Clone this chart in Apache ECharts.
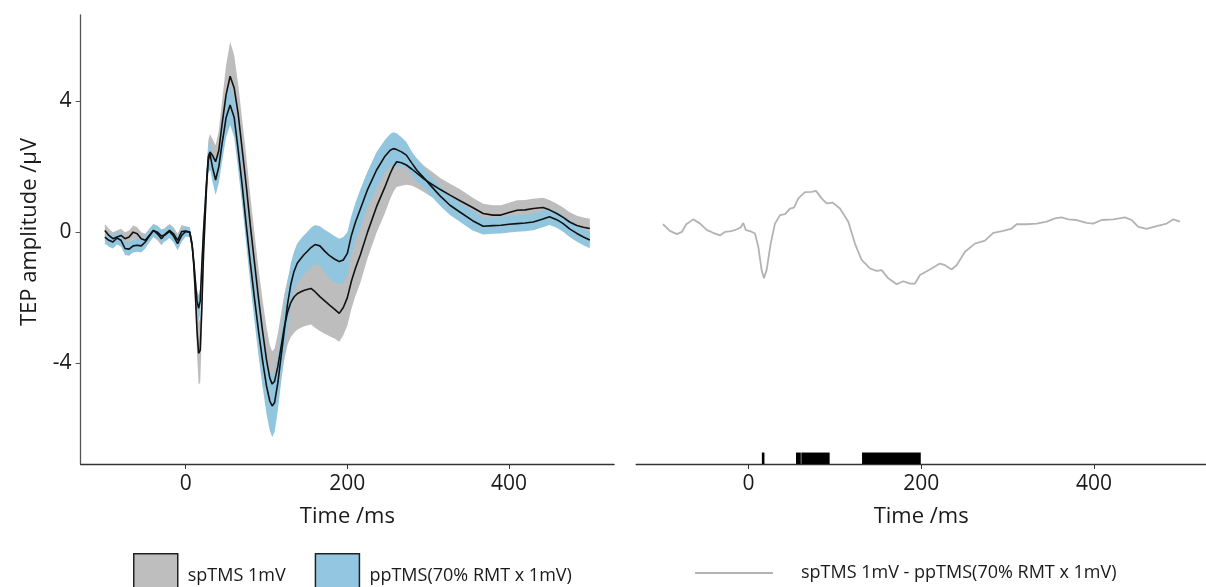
<!DOCTYPE html>
<html>
<head>
<meta charset="utf-8">
<script src="https://cdn.jsdelivr.net/npm/echarts@6/dist/echarts.min.js"></script>
<style>
html,body{margin:0;padding:0;background:#fff;}
#chart{width:1206px;height:587px;}
</style>
</head>
<body>
<div id="chart"></div>
<script>
// ---- data ----
const time = [-100,-95,-90,-85,-80,-75,-70,-65,-60,-55,-50,-45,-40,-35,-30,-25,-20,-15,-10,-5,0,
  5,8,10,12,14,16,18,20,22,24,26,28,30,33,37,41,45,50,55,60,65,70,75,80,85,90,95,100,104,107,110,
  114,118,122,126,130,134,138,142,146,150,155,160,166,172,178,184,190,195,200,205,210,216,225,236,
  246,253,257,261,267,273,280,286,295,302,315,327,340,355,368,380,390,400,410,420,430,442,450,459,
  467,475,484,492,500];
const spMean = [0.05,-0.1,-0.2,-0.15,-0.1,-0.2,-0.15,0.0,-0.05,-0.2,-0.25,-0.1,0.05,-0.05,-0.2,-0.05,0.05,-0.05,-0.25,0.02,0.03,
  0.0,-0.4,-1.0,-1.9,-3.0,-3.7,-3.6,-2.3,-0.7,0.4,1.5,2.3,2.45,2.35,2.15,2.5,3.3,4.2,4.76,4.4,3.6,2.5,1.4,0.2,-0.9,-2.0,-3.0,-3.9,-4.45,-4.64,-4.55,
  -4.1,-3.5,-2.9,-2.45,-2.15,-1.98,-1.88,-1.83,-1.78,-1.75,-1.72,-1.82,-1.97,-2.1,-2.23,-2.35,-2.48,-2.3,-2.0,-1.5,-1.1,-0.7,0.0,0.77,
  1.35,1.79,2.0,2.15,2.12,2.05,1.92,1.8,1.62,1.5,1.3,1.13,0.95,0.75,0.57,0.52,0.52,0.6,0.67,0.68,0.72,0.75,0.68,0.57,
  0.45,0.31,0.2,0.15,0.11];
const spHalf = [0.2,0.2,0.2,0.2,0.2,0.2,0.2,0.2,0.2,0.2,0.2,0.2,0.2,0.2,0.2,0.2,0.2,0.2,0.2,0.2,0.15,
  0.15,0.2,0.3,0.5,0.7,0.95,1.0,0.8,0.6,0.5,0.5,0.5,0.55,0.5,0.5,0.6,0.7,0.9,1.05,1.0,0.9,0.9,0.9,0.9,0.9,0.9,0.95,1.0,1.0,1.0,1.0,
  1.0,1.0,1.0,1.0,1.05,1.1,1.1,1.1,1.1,1.1,1.1,1.1,1.05,1.0,0.95,0.9,0.87,0.85,0.85,0.85,0.85,0.85,0.8,0.8,
  0.8,0.78,0.77,0.77,0.7,0.6,0.5,0.45,0.4,0.4,0.35,0.35,0.35,0.3,0.3,0.3,0.3,0.3,0.3,0.3,0.3,0.3,0.3,0.3,
  0.3,0.3,0.3,0.3,0.3];
const ppMean = [-0.15,-0.25,-0.3,-0.18,-0.25,-0.5,-0.52,-0.42,-0.4,-0.42,-0.3,-0.12,0.05,0.0,-0.12,-0.08,0.02,-0.12,-0.35,-0.1,0.02,
  0.0,-0.4,-0.9,-1.5,-2.1,-2.33,-2.1,-1.0,0.0,0.8,1.6,2.2,2.4,2.0,1.59,2.0,2.7,3.5,3.88,3.5,2.5,1.4,0.2,-0.95,-2.0,-3.0,-3.9,-4.7,-5.15,-5.31,-5.2,
  -4.6,-3.8,-3.0,-2.2,-1.6,-1.2,-0.95,-0.82,-0.7,-0.6,-0.47,-0.38,-0.42,-0.58,-0.72,-0.82,-0.9,-0.85,-0.65,-0.1,0.3,0.7,1.3,1.89,
  2.3,2.5,2.55,2.52,2.45,2.35,2.1,1.89,1.65,1.45,1.1,0.82,0.6,0.35,0.18,0.2,0.21,0.24,0.26,0.28,0.31,0.4,0.47,0.38,
  0.26,0.1,-0.04,-0.15,-0.24];
const ppHalf = [0.2,0.2,0.2,0.2,0.2,0.2,0.2,0.2,0.2,0.2,0.2,0.2,0.2,0.2,0.2,0.2,0.2,0.2,0.2,0.2,0.15,
  0.15,0.15,0.2,0.3,0.35,0.4,0.4,0.4,0.4,0.4,0.4,0.4,0.45,0.45,0.46,0.5,0.55,0.6,0.6,0.6,0.6,0.6,0.6,0.65,0.7,0.75,0.8,0.85,0.9,0.95,0.9,
  0.85,0.8,0.75,0.7,0.65,0.6,0.6,0.6,0.6,0.6,0.6,0.6,0.6,0.65,0.7,0.7,0.7,0.7,0.65,0.6,0.6,0.6,0.55,0.55,
  0.5,0.5,0.5,0.5,0.45,0.4,0.35,0.35,0.3,0.3,0.3,0.3,0.3,0.3,0.25,0.25,0.25,0.25,0.25,0.25,0.25,0.25,0.25,0.25,
  0.25,0.25,0.25,0.25,0.25];

const diffTime = [-99,-91,-83,-77,-72,-64,-56,-48,-41,-33,-27,-20,-14,-9,-6,-3,2,7.5,11.4,15.2,17.9,21,25.7,30.7,36.5,42.3,48,52.7,57.7,
  65.4,73.2,78.2,84.7,90.5,97.5,105.9,115.6,123.3,131,140.7,148.4,154.2,161.9,171.6,179.3,187,192.8,198.6,210.1,221.7,227.5,235.2,241,
  250.7,262.2,273.8,283.5,295,304.7,310.5,322.1,333.7,345.3,354.9,362.6,370.3,380,391.6,399.2,408.9,422.4,435.9,443.7,451.4,461,472.6,
  484.2,491.9,499.6];
const diffVal = [0.24,0.04,-0.06,0.01,0.24,0.39,0.26,0.06,-0.02,-0.1,0.01,0.03,0.08,0.14,0.28,0.06,0.03,-0.04,-0.45,-1.16,-1.41,-1.16,-0.35,0.26,0.52,0.55,0.72,0.75,1.03,
  1.22,1.23,1.26,1.03,0.88,0.9,0.72,0.32,-0.35,-0.85,-1.11,-1.18,-1.16,-1.41,-1.59,-1.5,-1.57,-1.57,-1.31,-1.14,-0.96,-1.01,-1.14,-1.01,
  -0.6,-0.35,-0.26,-0.02,0.04,0.11,0.24,0.24,0.26,0.32,0.42,0.45,0.39,0.37,0.28,0.26,0.37,0.39,0.45,0.37,0.16,0.1,0.18,
  0.26,0.39,0.32];

const sigStart = [15.5, 55, 61.2, 131.5];
const sigEnd   = [18.5, 60.6, 94, 199.5];

const xTicks = [0, 200, 400];
const yTicks = [-4, 0, 4];
const xMin = -130, xMax = 530;
const yMin = -7.08, yMax = 6.63;

const spName = 'spTMS 1mV';
const ppName = 'ppTMS(70% RMT x 1mV)';
const diffName = 'spTMS 1mV - ppTMS(70% RMT x 1mV)';

// ---- chart ----
const FONT = 'Open Sans';
const GREY = '#bdbdbd', BLUE = '#92c5de', TXT = '#1a1a1a', AX = '#333';

function xAxisCfg(gi) {
  return {
    gridIndex: gi, type: 'value', min: xMin, max: xMax,
    splitLine: {show: false},
    axisLine: {onZero: false, lineStyle: {color: AX, width: 1.3}},
    axisTick: {customValues: xTicks, length: 5, lineStyle: {color: AX}},
    axisLabel: {customValues: xTicks, fontSize: 21, color: TXT, margin: 10, fontFamily: FONT},
    name: 'Time /ms', nameLocation: 'middle', nameGap: 42,
    nameTextStyle: {fontSize: 22, color: TXT, fontFamily: FONT}
  };
}

// band polygon drawn through the axis scale (api.coord)
function bandSeries(name, mean, half, color) {
  return {
    name: name, type: 'custom', xAxisIndex: 0, yAxisIndex: 0, silent: true,
    data: time.map((t, i) => [t, mean[i] - half[i], mean[i] + half[i]]),
    encode: {x: 0, y: [1, 2]},
    itemStyle: {color: color},
    renderItem: function (params, api) {
      if (params.dataIndex !== 0) return null;
      const pts = [];
      for (let i = 0; i < time.length; i++) pts.push(api.coord([time[i], mean[i] + half[i]]));
      for (let i = time.length - 1; i >= 0; i--) pts.push(api.coord([time[i], mean[i] - half[i]]));
      return {type: 'polygon', shape: {points: pts}, style: {fill: color}};
    },
    z: 2
  };
}

const option = {
  animation: false,
  textStyle: {fontFamily: FONT},
  grid: [
    {left: 80.6, top: 15, width: 533.5, height: 449, outerBoundsMode: 'none'},
    {left: 636.2, top: 15, width: 570, height: 449, outerBoundsMode: 'none'}
  ],
  xAxis: [xAxisCfg(0), xAxisCfg(1)],
  yAxis: [
    {
      gridIndex: 0, type: 'value', min: yMin, max: yMax,
      splitLine: {show: false},
      axisLine: {show: true, onZero: false, lineStyle: {color: '#555', width: 1.3}},
      axisTick: {show: true, customValues: yTicks, length: 5, lineStyle: {color: '#555'}},
      axisLabel: {customValues: yTicks, fontSize: 21, color: TXT, margin: 9, fontFamily: FONT},
      name: 'TEP amplitude /\u00b5V', nameLocation: 'middle', nameGap: 40, nameRotate: 90,
      nameTextStyle: {fontSize: 22, color: TXT, fontFamily: FONT, padding: [0, 0, 0, 15]}
    },
    {gridIndex: 1, type: 'value', min: yMin, max: yMax, show: false}
  ],
  legend: [
    {
      left: 128, top: 548, orient: 'horizontal', itemWidth: 44, itemHeight: 44, itemGap: 29,
      selectedMode: false,
      textStyle: {fontSize: 18, color: TXT, fontFamily: FONT, padding: [0, 0, 0, 5]},
      data: [
        {name: spName, icon: 'rect', itemStyle: {color: '#bebebe', borderColor: '#222', borderWidth: 1.5}},
        {name: ppName, icon: 'rect', itemStyle: {color: '#93c6e0', borderColor: '#222', borderWidth: 1.5}}
      ]
    },
    {
      left: 690, top: 559, itemWidth: 78, itemHeight: 2, selectedMode: false,
      textStyle: {fontSize: 18, color: TXT, fontFamily: FONT, padding: [0, 0, 0, 23]},
      data: [{name: diffName, icon: 'rect', itemStyle: {color: '#b3b3b3', borderWidth: 0}}]
    }
  ],
  series: [
    bandSeries(spName, spMean, spHalf, GREY),
    bandSeries(ppName, ppMean, ppHalf, BLUE),
    {
      name: 'spMean', type: 'line', xAxisIndex: 0, yAxisIndex: 0, symbol: 'none', silent: true,
      data: time.map((t, i) => [t, spMean[i]]), lineStyle: {color: '#111', width: 1.6}, z: 5
    },
    {
      name: 'ppMean', type: 'line', xAxisIndex: 0, yAxisIndex: 0, symbol: 'none', silent: true,
      data: time.map((t, i) => [t, ppMean[i]]), lineStyle: {color: '#111', width: 1.6}, z: 5
    },
    {
      name: diffName, type: 'line', xAxisIndex: 1, yAxisIndex: 1, symbol: 'none', silent: true,
      data: diffTime.map((t, i) => [t, diffVal[i]]),
      itemStyle: {color: '#b3b3b3'}, lineStyle: {color: '#b3b3b3', width: 1.8}
    },
    {
      name: 'sig', type: 'custom', xAxisIndex: 1, yAxisIndex: 1, silent: true,
      data: sigStart.map((s, i) => [s, sigEnd[i]]),
      encode: {x: [0, 1]},
      renderItem: function (params, api) {
        const p0 = api.coord([api.value(0), -6.73]);
        const p1 = api.coord([api.value(1), yMin]);
        return {type: 'rect', shape: {x: p0[0], y: p0[1], width: p1[0] - p0[0], height: p1[1] - p0[1]},
          style: {fill: '#000'}};
      },
      z: 3
    }
  ]
};

const chart = echarts.init(document.getElementById('chart'), null, {renderer: 'canvas'});
chart.setOption(option);
</script>
</body>
</html>
